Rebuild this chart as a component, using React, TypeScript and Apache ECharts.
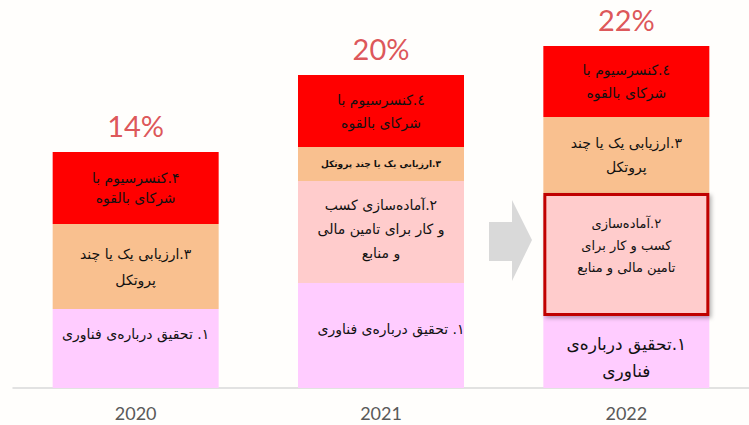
import React, { useEffect, useRef } from "react";
import * as echarts from "echarts";

const years = ["2020", "2021", "2022"];
const percentLabels = ["14%", "20%", "22%"];

// stacked segment heights (bottom to top)
const techValues = [79, 105, 72];
const businessValues = [0, 102, 123];
const protocolValues = [85, 34, 76];
const consortiumValues = [72, 72, 71];

const techLabels = [
  "۱. تحقیق درباره‌ی فناوری",
  "١. تحقیق درباره‌ی فناوری",
  "١.تحقیق درباره‌ی\nفناوری",
];
const businessLabels = [
  "",
  "٢.آماده‌سازی کسب\nو کار برای تامین مالی\nو منابع",
  "۲.آماده‌سازی\nکسب و کار برای\nتامین مالی و منابع",
];
const protocolLabels = [
  "۳.ارزیابی یک یا چند\nپروتکل",
  "٣.ارزیابی یک یا چند پروتکل",
  "٣.ارزیابی یک یا چند\nپروتکل",
];
const consortiumLabels = [
  "۴.کنسرسیوم با\nشرکای بالقوه",
  "٤.کنسرسیوم با\nشرکای بالقوه",
  "٤.کنسرسیوم با\nشرکای بالقوه",
];

const FONT = "DejaVu Sans";

export default function App() {
  const ref = useRef<HTMLDivElement>(null);
  useEffect(() => {
    document.body.style.margin = "0";
    const chart = echarts.init(ref.current!, null, { renderer: "svg" });
    const totals = years.map(
      (_, i) => techValues[i] + businessValues[i] + protocolValues[i] + consortiumValues[i]
    );
    const baseLabel = {
      show: true,
      position: "inside",
      color: "#111",
      fontFamily: FONT,
      fontSize: 14,
      lineHeight: 22,
    };
    const seg = (
      name: string,
      values: number[],
      labels: string[],
      color: string,
      perItem: (i: number) => any,
      extra: any = {}
    ) => ({
      type: "bar",
      name,
      stack: "s",
      barWidth: 166,
      itemStyle: { color },
      label: { ...baseLabel, formatter: (p: any) => labels[p.dataIndex] },
      data: values.map((v, i) => ({ value: v, ...perItem(i) })),
      ...extra,
    });

    const option: any = {
      animation: false,
      backgroundColor: "#FFFEFC",
      grid: { left: 13, top: 38, width: 745, height: 350 },
      xAxis: {
        type: "category",
        data: years,
        axisLine: { lineStyle: { color: "#D9D9D9", width: 1.5 } },
        axisTick: { show: false },
        axisLabel: { color: "#595959", fontSize: 18, fontFamily: "Lato", margin: 16 },
      },
      yAxis: { type: "value", min: 0, max: 350, show: false },
      graphic: [
        {
          type: "polygon",
          shape: {
            points: [
              [489, 222],
              [512, 222],
              [512, 200],
              [532, 240],
              [512, 281],
              [512, 261],
              [489, 261],
            ],
          },
          style: { fill: "#D9D9D9" },
        },
      ],
      series: [
        seg("tech", techValues, techLabels, "#FFCCFF", (i) =>
          [
            { label: { offset: [0, -15] } },
            { label: { offset: [10, -7] } },
            { label: { offset: [0, 5], fontSize: 17, lineHeight: 27 } },
          ][i]
        ),
        seg(
          "business",
          businessValues,
          businessLabels,
          "#FFCCCC",
          (i) =>
            [
              {},
              { label: { offset: [0, -3], lineHeight: 24 } },
              {
                label: { offset: [0, -9], fontSize: 13, lineHeight: 22 },
                itemStyle: {
                  borderColor: "#C00000",
                  borderWidth: 3,
                  shadowBlur: 4,
                  shadowColor: "rgba(0,0,0,0.3)",
                  shadowOffsetX: 2,
                  shadowOffsetY: 2,
                },
              },
            ][i],
          { z: 3 }
        ),
        seg("protocol", protocolValues, protocolLabels, "#F9C08F", (i) =>
          [
            { label: { lineHeight: 26 } },
            { label: { fontSize: 9, fontWeight: "bold" } },
            { label: { lineHeight: 24 } },
          ][i]
        ),
        seg("consortium", consortiumValues, consortiumLabels, "#FF0000", (i) =>
          [
            { label: { lineHeight: 20 } },
            { label: { lineHeight: 23 } },
            { label: { lineHeight: 23 } },
          ][i]
        ),
        {
          type: "scatter",
          symbolSize: 0,
          data: totals,
          z: 5,
          label: {
            show: true,
            position: "top",
            distance: 12,
            formatter: (p: any) => percentLabels[p.dataIndex],
            color: "#D42A2E",
            fontFamily: "Lato",
            fontSize: 29,
          },
        },
      ],
    };
    chart.setOption(option);
    return () => chart.dispose();
  }, []);
  return <div ref={ref} style={{ width: 749, height: 425, direction: "rtl" }} />;
}
